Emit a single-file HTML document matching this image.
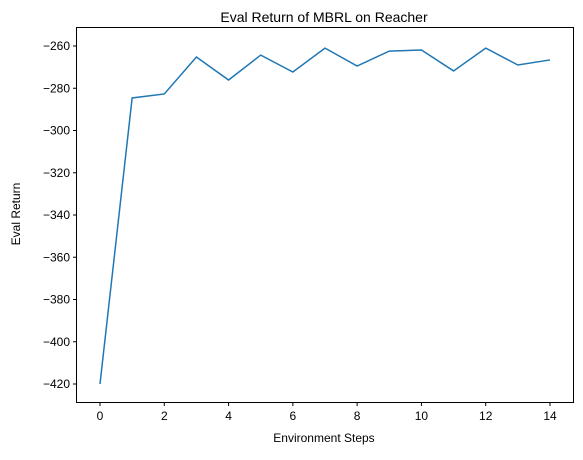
<!DOCTYPE html>
<html><head><meta charset="utf-8"><style>
body{margin:0;background:#fff;}
svg text{font-family:"Liberation Sans","DejaVu Sans",sans-serif;fill:#000;}
</style></head><body>
<svg id="chart" width="583" height="455" viewBox="0 0 583 455">
<text x="324" y="22" font-size="14" text-anchor="middle">Eval Return of MBRL on Reacher</text>
<text x="324" y="442" font-size="12" text-anchor="middle">Environment Steps</text>
<text transform="translate(20,214) rotate(-90)" font-size="12" text-anchor="middle">Eval Return</text>
<g id="ticks"></g>
<polyline id="line" fill="none" stroke="#1f77b4" stroke-width="1.5"/>
<rect x="76.5" y="27.5" width="497" height="375" fill="none" stroke="#000" stroke-width="1"/>
</svg>
<script>
const steps=[0,1,2,3,4,5,6,7,8,9,10,11,12,13,14];
const returns=[-420,-284.6,-282.7,-265.2,-276.1,-264.3,-272.3,-261,-269.5,-262.4,-261.9,-271.8,-261,-269,-266.6];
const xTicks=[0,2,4,6,8,10,12,14];
const yTicks=[-260,-280,-300,-320,-340,-360,-380,-400,-420];
function xs(v){return 100+v*(450/14);}
function ys(v){return 46+(-260-v)*(338/160);}
const ns="http://www.w3.org/2000/svg";
const g=document.getElementById('ticks');
xTicks.forEach(t=>{
 const l=document.createElementNS(ns,'line');
 l.setAttribute('x1',xs(t));l.setAttribute('x2',xs(t));l.setAttribute('y1',402.5);l.setAttribute('y2',406);l.setAttribute('stroke','#000');
 
 
 g.appendChild(l);
 const tx=document.createElementNS(ns,'text');
 tx.setAttribute('x',xs(t));tx.setAttribute('y',420);tx.setAttribute('font-size','12');tx.setAttribute('text-anchor','middle');
 tx.textContent=t;
 
 
 g.appendChild(tx);
});
yTicks.forEach(t=>{
 const l=document.createElementNS(ns,'line');
 l.setAttribute('x1',73);l.setAttribute('x2',76.5);l.setAttribute('y1',ys(t));l.setAttribute('y2',ys(t));l.setAttribute('stroke','#000');
 
 
 g.appendChild(l);
 const tx=document.createElementNS(ns,'text');
 tx.setAttribute('x',70);tx.setAttribute('y',ys(t)+4);tx.setAttribute('font-size','12');tx.setAttribute('text-anchor','end');
 tx.textContent='\u2212'+Math.abs(t);
 
 
 g.appendChild(tx);
});
document.getElementById('line').setAttribute('points',steps.map((s,i)=>xs(s)+','+ys(returns[i])).join(' '));
</script>
</body></html>
